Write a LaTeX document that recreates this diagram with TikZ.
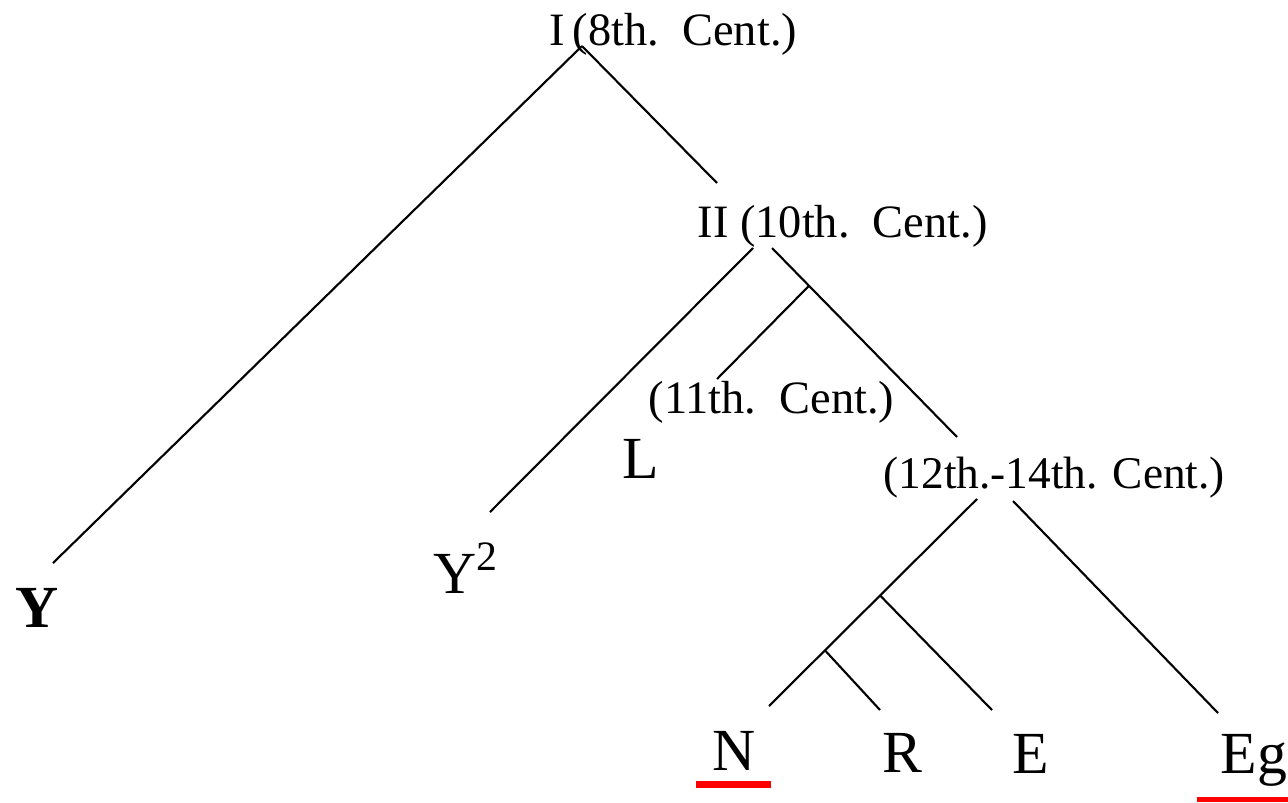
\documentclass[tikz,border=0pt]{standalone}
\usepackage{fontspec}
\setmainfont{Liberation Serif}
\usetikzlibrary{calc}

\begin{document}
\begin{tikzpicture}[
    era/.style={inner sep=0pt, anchor=base west, font=\fontsize{13.2}{16}\selectfont},
    leaf/.style={inner sep=0pt, anchor=base west, font=\fontsize{17}{20}\selectfont},
    branch/.style={line width=0.6pt, black}
  ]

  % ================= frame =================
  \useasboundingbox (0,0) rectangle (12.88,-8.02);

  % ================= dated stages =================
  \node[era] (st1)  at (5.49,-0.45) {I\,(8th.\ \ Cent.)};
  \node[era] (st2)  at (6.97,-2.37) {II (10th.\ \ Cent.)};
  \node[era] (st3)  at (6.48,-4.13) {(11th.\ \ Cent.)};
  \node[era, font=\fontsize{12.9}{16}\selectfont] (st4) at (8.83,-4.88) {(12th.-14th. Cent.)};

  % ================= manuscripts =================
  \node[leaf, font=\fontsize{17}{20}\selectfont\bfseries] (Y) at (0.15,-6.27) {Y};
  \node[leaf] (Y2) at (4.33,-5.93) {Y\textsuperscript{2}};
  \node[leaf] (L)  at (6.22,-4.78) {L};
  \node[leaf] (N)  at (7.12,-7.70) {N};
  \node[leaf] (R)  at (8.82,-7.72) {R};
  \node[leaf] (E)  at (10.12,-7.73) {E};
  \node[leaf] (Eg) at (12.20,-7.73) {Eg};

  % ================= branch ends =================
  \coordinate (top1) at (5.82,-0.46);
  \coordinate (top2l) at (7.53,-2.48);
  \coordinate (top2r) at (7.72,-2.48);
  \coordinate (top4l) at (9.77,-4.99);
  \coordinate (top4r) at (10.13,-5.01);
  \coordinate (endY)  at (0.53,-5.63);
  \coordinate (end2)  at (7.17,-1.83);
  \coordinate (endY2) at (4.90,-5.12);
  \coordinate (end4)  at (9.57,-4.37);
  \coordinate (end3)  at (7.17,-3.79);
  \coordinate (endN)  at (7.69,-7.06);
  \coordinate (endR)  at (8.80,-7.10);
  \coordinate (endE)  at (9.92,-7.10);
  \coordinate (endEg) at (12.18,-7.13);
  \coordinate (j3) at ($(top2r)!0.2!(end4)$);    % split towards 11th. Cent.
  \coordinate (jE) at ($(top4l)!0.466!(endN)$);  % split towards E
  \coordinate (jR) at ($(top4l)!0.731!(endN)$);  % split towards R

  % ================= the tree =================
  \draw[branch] (top1) -- (endY);
  \draw[branch] (top1) -- (end2);
  \draw[branch] (top2l) -- (endY2);
  \draw[branch] (top2r) -- (end4);
  \draw[branch] (j3) -- (end3);
  \draw[branch] (top4l) -- (endN);
  \draw[branch] (jR) -- (endR);
  \draw[branch] (jE) -- (endE);
  \draw[branch] (top4r) -- (endEg);

  % ================= red marks =================
  \fill[red] (6.96,-7.81) rectangle (7.71,-7.88);
  \fill[red] (11.97,-7.97) rectangle (12.88,-8.02);

\end{tikzpicture}
\end{document}
